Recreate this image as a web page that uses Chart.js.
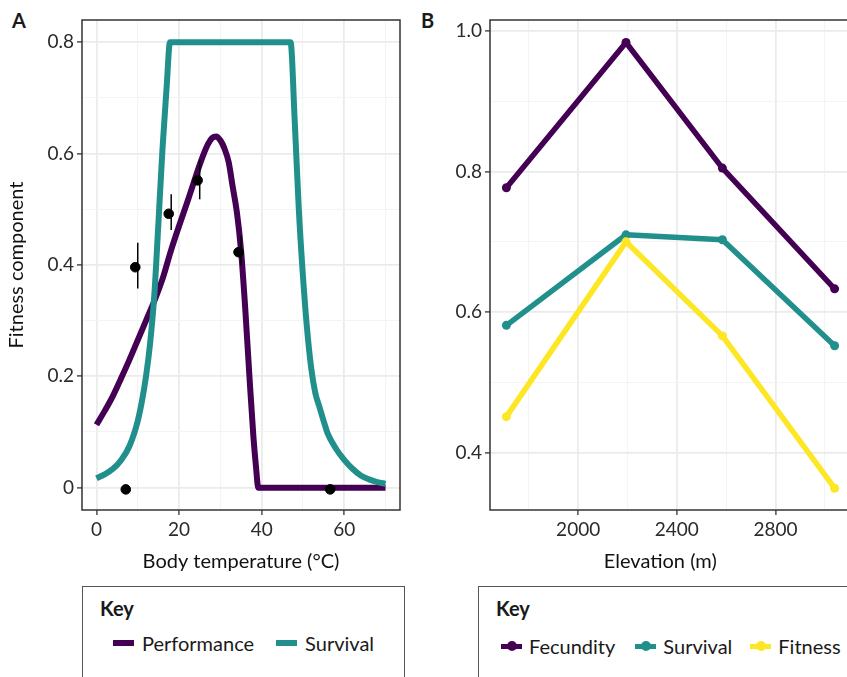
<!DOCTYPE html>
<html>
<head>
<meta charset="utf-8">
<script src="https://cdn.jsdelivr.net/npm/chart.js@4.4.1/dist/chart.umd.min.js"></script>
<style>
  html, body { margin: 0; padding: 0; width: 847px; height: 677px; overflow: hidden; background: #fff; }
  body { position: relative; font-family: Lato, sans-serif; color: #1a1a1a; }
  .panel { position: absolute; top: 0; height: 580px; }
  #wrapA { left: 0; width: 410px; }
  #wrapB { left: 420px; width: 440px; }
  .tag { position: absolute; top: 8px; font-weight: bold; font-size: 20px; }
  .key { position: absolute; top: 586px; height: 130px; border: 1px solid #555; box-sizing: border-box; }
  .key .title { position: absolute; left: 17px; top: 9px; font-size: 20px; font-weight: bold; }
  .key .items { position: absolute; left: 30px; top: 44px; display: flex; align-items: center; font-size: 20px; white-space: nowrap; }
  .item { display: flex; align-items: center; margin-right: 22px; }
  .sw { position: relative; width: 21px; height: 6px; margin-right: 8px; }
  .sw.pt { height: 5px; margin-right: 7px; }
  .sw.pt::after { content: ''; position: absolute; left: 6px; top: -2.5px; width: 10px; height: 10px; border-radius: 50%; background: inherit; }
</style>
</head>
<body>
<div class="tag" style="left:12px">A</div>
<div class="tag" style="left:421px">B</div>
<div class="panel" id="wrapA"><canvas id="chartA"></canvas></div>
<div class="panel" id="wrapB"><canvas id="chartB"></canvas></div>

<div class="key" style="left:82px; width:323px;">
  <div class="title">Key</div>
  <div class="items">
    <div class="item"><div class="sw" style="background:#440154"></div>Performance</div>
    <div class="item"><div class="sw" style="background:#21908c"></div>Survival</div>
  </div>
</div>
<div class="key" style="left:478px; width:400px;">
  <div class="title">Key</div>
  <div class="items" style="left:22px; top:47px;">
    <div class="item" style="margin-right:20px"><div class="sw pt" style="background:#440154"></div>Fecundity</div>
    <div class="item" style="margin-right:18px"><div class="sw pt" style="background:#21908c"></div>Survival</div>
    <div class="item"><div class="sw pt" style="background:#fde725"></div>Fitness</div>
  </div>
</div>

<script>
// Panel A: thermal performance and survival curves
const perfTemp = [0, 2, 4, 6, 8, 10, 12, 14, 16, 18, 20, 22, 24, 25, 26, 27, 28, 29, 30, 31, 32, 33, 34, 35, 36, 37, 38, 38.6, 39.2, 70];
const perfValue = [0.113, 0.138, 0.165, 0.197, 0.23, 0.265, 0.30, 0.335, 0.375, 0.425, 0.47, 0.513, 0.558, 0.58, 0.60, 0.617, 0.628, 0.631, 0.624, 0.609, 0.585, 0.54, 0.495, 0.427, 0.325, 0.205, 0.092, 0.04, 0, 0];

const survTemp = [0, 2, 4, 6, 8, 10, 11, 12, 13, 14, 15, 16, 17, 17.8, 47, 48, 49, 50, 51, 52, 53, 54, 55, 56, 58, 60, 62, 64, 66, 68, 70];
const survValue = [0.017, 0.024, 0.034, 0.05, 0.075, 0.12, 0.155, 0.2, 0.26, 0.345, 0.475, 0.61, 0.72, 0.8, 0.8, 0.66, 0.5, 0.38, 0.285, 0.215, 0.17, 0.145, 0.12, 0.097, 0.07, 0.05, 0.034, 0.022, 0.015, 0.01, 0.007];

// observed points with error bars
const obsTemp = [7.1, 9.4, 17.5, 24.5, 34.4, 56.6];
const obsValue = [-0.003, 0.396, 0.492, 0.552, 0.423, -0.003];
const errTemp = [10.0, 18.1, 25.0, 35.0];
const errLow = [0.358, 0.463, 0.518, 0.399];
const errHigh = [0.44, 0.527, 0.589, 0.453];

const xMajorA = [0, 20, 40, 60];
const xMinorA = [10, 30, 50, 70];
const yMajorA = [0, 0.2, 0.4, 0.6, 0.8];
const yLabelsA = ['0', '0.2', '0.4', '0.6', '0.8'];
const yMinorA = [0.1, 0.3, 0.5, 0.7];

// Panel B: fitness components along elevation
const elevation = [1709, 2194, 2585, 3040];
const fecundity = [0.777, 0.984, 0.805, 0.633];
const survivalB = [0.581, 0.710, 0.703, 0.552];
const fitness = [0.451, 0.700, 0.566, 0.349];

const xMajorB = [2000, 2400, 2800];
const xMinorB = [1800, 2200, 2600, 3000];
const yMajorB = [0.4, 0.6, 0.8, 1.0];
const yLabelsB = ['0.4', '0.6', '0.8', '1.0'];
const yMinorB = [0.5, 0.7, 0.9];

const PURPLE = '#440154';
const TEAL = '#21908c';
const YELLOW = '#fde725';
const FONT = 'Lato, sans-serif';

// draw the dark panel frame
const frame = {
  id: 'frame',
  afterDraw(chart) {
    const { ctx, chartArea: a } = chart;
    ctx.save();
    ctx.strokeStyle = '#333';
    ctx.lineWidth = 1.5;
    ctx.strokeRect(a.left, a.top, a.right - a.left, a.bottom - a.top);
    ctx.restore();
  }
};

const errorBars = {
  id: 'errorBars',
  afterDatasetsDraw(chart) {
    const { ctx, scales: { x, y } } = chart;
    ctx.save();
    ctx.strokeStyle = '#000';
    ctx.lineWidth = 1.5;
    errTemp.forEach((t, i) => {
      const px = x.getPixelForValue(t);
      ctx.beginPath();
      ctx.moveTo(px, y.getPixelForValue(errLow[i]));
      ctx.lineTo(px, y.getPixelForValue(errHigh[i]));
      ctx.stroke();
    });
    ctx.restore();
  }
};

// axis builder with major/minor gridlines like ggplot
function axis(majors, minors, labels, min, max, extra) {
  const isMajor = v => majors.includes(v);
  return Object.assign({
    type: 'linear',
    min: min,
    max: max,
    afterBuildTicks: s => { s.ticks = majors.concat(minors).sort((a, b) => a - b).map(v => ({ value: v })); },
    grid: {
      color: c => (c.tick && isMajor(c.tick.value)) ? '#ebebeb' : '#f4f4f4',
      lineWidth: c => (c.tick && isMajor(c.tick.value)) ? 1.8 : 1.1,
      tickColor: c => (c.tick && isMajor(c.tick.value)) ? '#333' : 'rgba(0,0,0,0)',
      tickWidth: 1.3,
      tickLength: 5
    },
    border: { display: false },
    ticks: {
      autoSkip: false,
      maxRotation: 0,
      padding: 3,
      color: '#2b2b2b',
      font: { family: FONT, size: 19 },
      callback: v => isMajor(v) ? labels[majors.indexOf(v)] : ''
    }
  }, extra || {});
}

new Chart(document.getElementById('chartA'), {
  type: 'line',
  data: {
    datasets: [
      {
        label: 'Observed',
        type: 'scatter',
        data: obsTemp.map((t, i) => ({ x: t, y: obsValue[i] })),
        backgroundColor: '#000',
        borderColor: '#000',
        pointRadius: 4.8,
        order: 0
      },
      {
        label: 'Survival',
        data: survTemp.map((t, i) => ({ x: t, y: survValue[i] })),
        borderColor: TEAL,
        borderWidth: 6,
        pointRadius: 0,
        cubicInterpolationMode: 'monotone',
        borderJoinStyle: 'round',
        order: 1
      },
      {
        label: 'Performance',
        data: perfTemp.map((t, i) => ({ x: t, y: perfValue[i] })),
        borderColor: PURPLE,
        borderWidth: 6,
        pointRadius: 0,
        cubicInterpolationMode: 'monotone',
        borderJoinStyle: 'round',
        order: 2
      }
    ]
  },
  options: {
    animation: false,
    responsive: true,
    maintainAspectRatio: false,
    layout: { padding: { left: 0, top: 20, right: 10, bottom: 0 } },
    plugins: { legend: { display: false }, tooltip: { enabled: false } },
    scales: {
      x: axis(xMajorA, xMinorA, xMajorA.map(String), -3.5, 73.5, {
        afterFit: s => { s.height = 70; },
        title: { display: true, text: 'Body temperature (°C)', color: '#111', font: { family: FONT, size: 20 }, padding: { top: 0, bottom: 6 } }
      }),
      y: axis(yMajorA, yMinorA, yLabelsA, -0.04, 0.84, {
        afterFit: s => { s.width = 82; },
        title: { display: true, text: 'Fitness component', color: '#111', font: { family: FONT, size: 20 }, padding: { top: 5, bottom: 0 } }
      })
    }
  },
  plugins: [errorBars, frame]
});

new Chart(document.getElementById('chartB'), {
  type: 'line',
  data: {
    datasets: [
      { label: 'Fitness', data: elevation.map((e, i) => ({ x: e, y: fitness[i] })), borderColor: YELLOW, backgroundColor: YELLOW, order: 0 },
      { label: 'Survival', data: elevation.map((e, i) => ({ x: e, y: survivalB[i] })), borderColor: TEAL, backgroundColor: TEAL, order: 1 },
      { label: 'Fecundity', data: elevation.map((e, i) => ({ x: e, y: fecundity[i] })), borderColor: PURPLE, backgroundColor: PURPLE, order: 2 }
    ].map(d => Object.assign(d, { borderWidth: 5.5, pointRadius: 4.5, pointBorderWidth: 0, borderJoinStyle: 'round' }))
  },
  options: {
    animation: false,
    responsive: true,
    maintainAspectRatio: false,
    layout: { padding: { left: 0, top: 20, right: 9, bottom: 0 } },
    plugins: { legend: { display: false }, tooltip: { enabled: false } },
    scales: {
      x: axis(xMajorB, xMinorB, xMajorB.map(String), 1642.5, 3106.5, {
        afterFit: s => { s.height = 70; },
        // trailing spaces nudge the centred title left, as in the reference
        title: { display: true, text: 'Elevation (m)\u00a0\u00a0\u00a0\u00a0', color: '#111', font: { family: FONT, size: 20 }, padding: { top: 0, bottom: 6 } }
      }),
      y: axis(yMajorB, yMinorB, yLabelsB, 0.318, 1.016, {
        afterFit: s => { s.width = 70; }
      })
    }
  },
  plugins: [frame]
});
</script>
</body>
</html>
